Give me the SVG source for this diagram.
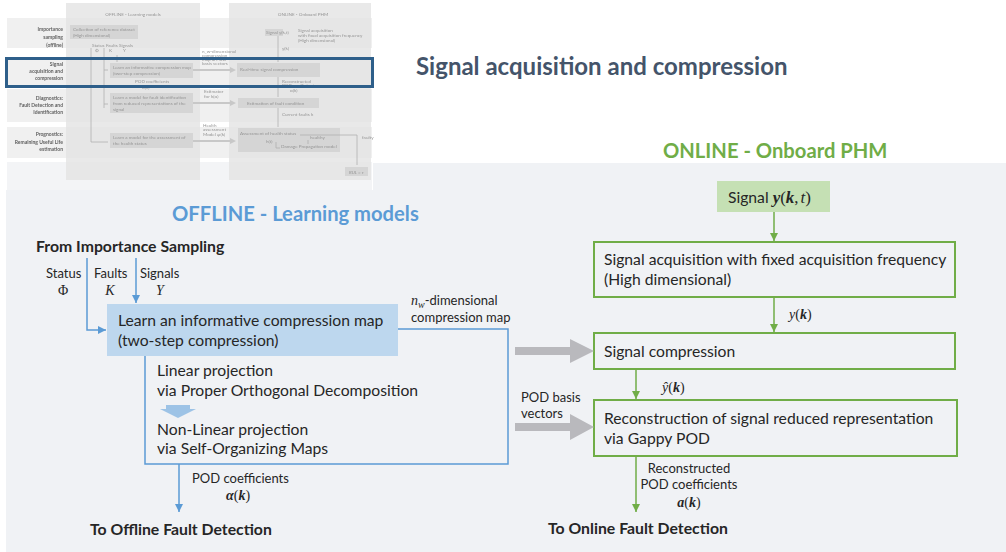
<svg xmlns="http://www.w3.org/2000/svg" width="1006" height="552" viewBox="0 0 1006 552">
<defs>
<style>
.t{font-family:Lato,"Open Sans","Liberation Sans",sans-serif;fill:#262626}
.m{font-family:"Liberation Serif",serif;fill:#262626}
.mi{font-style:italic}
.mb{font-style:italic;font-weight:bold}
.body{font-size:15.7px}
.sm{font-size:13px}
.hd{font-size:15.8px;font-weight:bold}
.ttl{font-size:20.2px;font-weight:bold}
.bl{stroke:#5b9bd5;stroke-width:1.5;fill:none}
.gr{stroke:#70ad47;stroke-width:1.5;fill:none}
.gbox{fill:none;stroke:#70ad47;stroke-width:2}
.th{font-family:Lato,"Liberation Sans",sans-serif;font-size:4.6px;fill:#969696}
.thl{font-family:Lato,"Liberation Sans",sans-serif;font-size:5px;font-weight:bold;fill:#606060;text-anchor:end}
.thbox{fill:#d5d5d5}
.thln{stroke:#b0b0b0;stroke-width:0.8;fill:none}
</style>
<marker id="ab" markerWidth="10" markerHeight="10" refX="8" refY="5" orient="auto" markerUnits="userSpaceOnUse"><path d="M0,1 L8,5 L0,9 Z" fill="#5b9bd5"/></marker>
<marker id="ag" markerWidth="10" markerHeight="10" refX="8" refY="5" orient="auto" markerUnits="userSpaceOnUse"><path d="M0,1 L8,5 L0,9 Z" fill="#70ad47"/></marker>
<filter id="blur" x="0" y="0" width="1" height="1"><feGaussianBlur stdDeviation="0.5"/></filter>
</defs>
<rect width="1006" height="552" fill="#ffffff"/>
<rect id="panel" x="6" y="163" width="1000" height="389" fill="#f0f2f5"/>

<g id="thumbnail" filter="url(#blur)">
  <rect x="5" y="0" width="368" height="190" fill="#ffffff"/>
  <g fill="#f0f0f0">
    <rect x="7" y="18" width="365" height="30"/>
    <rect x="7" y="58" width="365" height="28"/>
    <rect x="7" y="89" width="365" height="33"/>
    <rect x="7" y="127" width="365" height="31"/>
    <rect x="7" y="162" width="365" height="28" fill="#f3f4f6"/>
  </g>
  <rect x="66" y="3" width="134" height="177" fill="#e4e4e4" opacity="0.8"/>
  <rect x="229" y="3" width="142" height="177" fill="#e4e4e4" opacity="0.8"/>
  <text class="th" x="133" y="16" text-anchor="middle" font-size="5.5" fill="#aaa">OFFLINE - Learning models</text>
  <text class="th" x="303" y="16" text-anchor="middle" font-size="5.5" fill="#aaa">ONLINE - Onboard PHM</text>
  <text class="thl" x="63" y="31">Importance</text>
  <text class="thl" x="63" y="39">sampling</text>
  <text class="thl" x="63" y="47">(offline)</text>
  <text class="thl" x="63" y="66">Signal</text>
  <text class="thl" x="63" y="73">acquisition and</text>
  <text class="thl" x="63" y="80">compression</text>
  <text class="thl" x="63" y="100">Diagnostics:</text>
  <text class="thl" x="63" y="107">Fault Detection and</text>
  <text class="thl" x="63" y="114">Identification</text>
  <text class="thl" x="63" y="136">Prognostics:</text>
  <text class="thl" x="63" y="144">Remaining Useful Life</text>
  <text class="thl" x="63" y="151">estimation</text>
  <rect class="thbox" x="70" y="25" width="68" height="14"/>
  <text class="th" x="73" y="31">Collection of reference dataset</text>
  <text class="th" x="73" y="37">(High dimensional)</text>
  <text class="th" x="92" y="47" font-size="3.6">Status</text>
  <text class="th" x="106" y="47" font-size="3.6">Faults</text>
  <text class="th" x="119" y="47" font-size="3.6">Signals</text>
  <text class="th" x="95" y="52" font-size="3.6">Φ</text>
  <text class="th" x="109" y="52" font-size="3.6">K</text>
  <text class="th" x="123" y="52" font-size="3.6">Y</text>
  <path class="thln" d="M91,48 V142 H108"/>
  <path class="thln" d="M104,48 V108"/>
  <path class="thln" d="M104,70 H108"/>
  <path class="thln" d="M104,104 H108"/>
  <path class="thln" d="M117,55 V62"/>
  <rect class="thbox" x="110" y="63" width="83" height="15"/>
  <text class="th" x="113" y="69">Learn an informative compression map</text>
  <text class="th" x="113" y="75">(two-step compression)</text>
  <text class="th" x="135" y="83" font-size="3.6">POD coefficients</text>
  <text class="th" x="142" y="89" font-size="3.6">α(k)</text>
  <rect class="thbox" x="110" y="93" width="83" height="20"/>
  <text class="th" x="113" y="99">Learn a model for fault identification</text>
  <text class="th" x="113" y="105">from reduced representations of the</text>
  <text class="th" x="113" y="111">signal</text>
  <rect class="thbox" x="110" y="133" width="83" height="15"/>
  <text class="th" x="113" y="139">Learn a model for the assessment of</text>
  <text class="th" x="113" y="145">the health status</text>
  <g fill="#c8c8c8">
    <polygon points="193,69 230,69 230,67 236,70 230,73 230,71 193,71"/>
    <polygon points="193,102 230,102 230,100 236,103 230,106 230,104 193,104"/>
    <polygon points="193,140 230,140 230,138 236,141 230,144 230,142 193,142"/>
  </g>
  <text class="th" x="202" y="53" font-size="3.4">n_w-dimensional</text>
  <text class="th" x="202" y="57" font-size="3.4">compression</text>
  <text class="th" x="202" y="61" font-size="3.4">map &amp; POD</text>
  <text class="th" x="202" y="65" font-size="3.4">basis vectors</text>
  <text class="th" x="204" y="93" font-size="3.4">Estimator</text>
  <text class="th" x="204" y="98" font-size="3.6">for k(α)</text>
  <text class="th" x="203" y="127" font-size="3.4">Health</text>
  <text class="th" x="203" y="131" font-size="3.4">assessment</text>
  <text class="th" x="203" y="136" font-size="3.6">Model φ(k)</text>
  <rect class="thbox" x="265" y="29" width="18" height="7"/>
  <text class="th" x="266" y="34" font-size="3.8">Signal y(k,t)</text>
  <text class="th" x="298" y="32" font-size="3.8">Signal acquisition</text>
  <text class="th" x="298" y="37" font-size="3.8">with fixed acquisition frequency</text>
  <text class="th" x="298" y="42" font-size="3.8">(High dimensional)</text>
  <path class="thln" d="M278,36 V62"/>
  <text class="th" x="282" y="50" font-size="3.6">y(k)</text>
  <rect class="thbox" x="237" y="63" width="83" height="14"/>
  <text class="th" x="240" y="71">Real-time signal compression</text>
  <path class="thln" d="M278,77 V97"/>
  <text class="th" x="282" y="83" font-size="3.4">Reconstructed</text>
  <text class="th" x="282" y="87" font-size="3.4">POD coefficients</text>
  <text class="th" x="290" y="92" font-size="3.6">α(k)</text>
  <rect class="thbox" x="238" y="98" width="81" height="10"/>
  <text class="th" x="247" y="104.5">Estimation of fault condition</text>
  <path class="thln" d="M278,108 V127"/>
  <text class="th" x="282" y="116" font-size="3.6">Current faults k</text>
  <rect class="thbox" x="238" y="128" width="102" height="24"/>
  <text class="th" x="240" y="135">Assessment of health status</text>
  <text class="th" x="266" y="143" font-size="3.6">h(t)</text>
  <text class="th" x="281" y="148">Damage Propagation model</text>
  <text class="th" x="310" y="139" font-size="3.4">healthy</text>
  <text class="th" x="362" y="139" font-size="3.4">faulty</text>
  <path class="thln" d="M300,135 H357 V165"/>
  <path class="thln" d="M276,142 V148 H280"/>
  <path class="thln" d="M308,140 V144"/>
  <rect class="thbox" x="345" y="167" width="23" height="9"/>
  <text class="th" x="349" y="173.5" font-size="4" font-style="italic">RUL = τ</text>
  <rect x="6.5" y="58.5" width="366" height="28" fill="none" stroke="#2f5f8a" stroke-width="3"/>
</g>

<g id="main-title"><text class="t" x="416" y="75" font-size="24" font-weight="bold" style="fill:#44546a">Signal acquisition and compression</text></g>

<g id="offline-title"><text class="t ttl" x="172" y="221" style="fill:#5b9bd5">OFFLINE - Learning models</text></g>
<g id="online-title"><text class="t ttl" x="663" y="158" style="fill:#70ad47">ONLINE - Onboard PHM</text></g>

<g id="from-is"><text class="t hd" x="36" y="252">From Importance Sampling</text></g>

<g id="input-labels">
  <text class="t sm" x="46" y="278">Status</text>
  <text class="m" x="63" y="295" font-size="14" text-anchor="middle">Φ</text>
  <text class="t sm" x="94" y="278">Faults</text>
  <text class="m mi" x="110" y="295" font-size="14" text-anchor="middle">K</text>
  <text class="t sm" x="140" y="278">Signals</text>
  <text class="m mi" x="160" y="295" font-size="14" text-anchor="middle">Y</text>
</g>

<g id="learn-map">
  <rect x="107" y="304" width="291" height="52" fill="#bdd7ee"/>
  <text class="t body" x="118" y="326">Learn an informative compression map</text>
  <text class="t body" x="118" y="346">(two-step compression)</text>
</g>

<g id="projection">
  <text class="t body" x="157" y="376">Linear projection</text>
  <text class="t body" x="157" y="396">via Proper Orthogonal Decomposition</text>
  <polygon points="166,405 190,405 190,409 196,409 178,418 160,409 166,409" fill="#9dc3e6"/>
  <text class="t body" x="157" y="435">Non-Linear projection</text>
  <text class="t body" x="157" y="454">via Self-Organizing Maps</text>
</g>

<g id="nw-label">
  <text x="411" y="305"><tspan class="m mi" font-size="14">n</tspan><tspan class="m mi" font-size="10" dy="3">w</tspan><tspan class="t sm" dy="-3">-dimensional</tspan></text>
  <text class="t sm" x="411" y="322">compression map</text>
</g>

<g id="pod-coef-label">
  <text class="t sm" x="192" y="483">POD coefficients</text>
  <text class="m" x="238" y="500" font-size="14" text-anchor="middle"><tspan class="mb">α</tspan>(<tspan class="mb">k</tspan>)</text>
</g>

<g id="to-offline"><text class="t hd" x="90" y="535">To Offline Fault Detection</text></g>

<g id="signal-input">
  <rect x="717" y="181" width="113" height="31" fill="#c5e0b4"/>
  <text class="t body" x="728" y="203">Signal <tspan class="m mb" font-size="17">y</tspan><tspan class="m" font-size="17">(</tspan><tspan class="m mb" font-size="17">k</tspan><tspan class="m" font-size="17">,</tspan><tspan class="m mi" font-size="17" dx="2">t</tspan><tspan class="m" font-size="17">)</tspan></text>
</g>

<g id="acquisition">
  <rect class="gbox" x="594" y="242" width="361" height="55"/>
  <text class="t body" x="604" y="265">Signal acquisition with fixed acquisition frequency</text>
  <text class="t body" x="604" y="285">(High dimensional)</text>
</g>

<g id="compression">
  <rect class="gbox" x="594" y="333" width="361" height="36"/>
  <text class="t body" x="604" y="357">Signal compression</text>
</g>

<g id="reconstruction">
  <rect class="gbox" x="594" y="400" width="363" height="56"/>
  <text class="t body" x="604" y="424">Reconstruction of signal reduced representation</text>
  <text class="t body" x="604" y="444">via Gappy POD</text>
</g>

<g id="online-labels">
  <text class="m" x="789" y="319" font-size="14"><tspan class="mi">y</tspan>(<tspan class="mb">k</tspan>)</text>
  <text class="m" x="662" y="392" font-size="14"><tspan class="mi">ŷ</tspan>(<tspan class="mb">k</tspan>)</text>
  <text class="t sm" x="521" y="402">POD basis</text>
  <text class="t sm" x="521" y="418">vectors</text>
  <text class="t sm" x="689" y="473" text-anchor="middle">Reconstructed</text>
  <text class="t sm" x="689" y="489" text-anchor="middle">POD coefficients</text>
  <text class="m" x="689" y="507" font-size="14" text-anchor="middle"><tspan class="mb">a</tspan>(<tspan class="mb">k</tspan>)</text>
</g>

<g id="to-online"><text class="t hd" x="548" y="534">To Online Fault Detection</text></g>

<g id="connectors">
  <path class="bl" d="M87,258 V330 H106" marker-end="url(#ab)"/>
  <path class="bl" d="M136,258 V303" marker-end="url(#ab)"/>
  <path class="bl" d="M398,329 H508 V464 H145 V356"/>
  <path class="bl" d="M179,464 V512" marker-end="url(#ab)"/>
  <path class="gr" d="M774,212 V241" marker-end="url(#ag)"/>
  <path class="gr" d="M774,297 V332" marker-end="url(#ag)"/>
  <path class="gr" d="M636,370 V399" marker-end="url(#ag)"/>
  <path class="gr" d="M636,456 V512" marker-end="url(#ag)"/>
  <g fill="#b9b9bd">
    <polygon points="515,347 570,347 570,339 594,351 570,363 570,355 515,355"/>
    <polygon points="515,423 570,423 570,414 594,427 570,440 570,431 515,431"/>
  </g>
</g>
</svg>
